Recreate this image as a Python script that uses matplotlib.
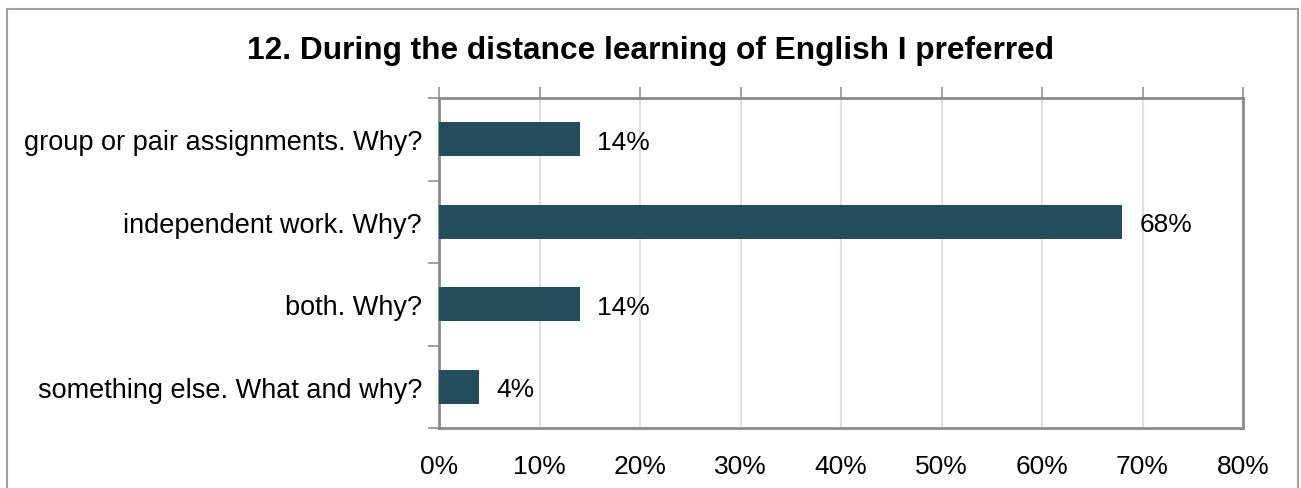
import matplotlib.pyplot as plt
from matplotlib.patches import Rectangle
from matplotlib.ticker import PercentFormatter

plt.rcParams['font.family'] = ['Liberation Sans', 'DejaVu Sans']

categories = ["group or pair assignments. Why?", "independent work. Why?",
              "both. Why?", "something else. What and why?"]
values = [14, 68, 14, 4]
bar_color = "#244D5B"

fig = plt.figure(figsize=(13.01, 4.89), dpi=100)
ax = fig.add_axes([439 / 1301, 1 - 429 / 489, 804 / 1301, 330 / 489])

# outer frame, open at the bottom like the source
fig.patches.append(Rectangle((7 / 1301, -0.1), 1291 / 1301, 1.1 - 10 / 489,
                             transform=fig.transFigure, fill=False,
                             edgecolor="#a0a0a0", linewidth=1.5))

ypos = list(range(len(categories)))
ax.barh(ypos, values, height=0.41, color=bar_color, zorder=3)
for y, v in zip(ypos, values):
    ax.text(v + 1.7, y, f"{v}%", va="center_baseline", ha="left", fontsize=19)

ax.set_xlim(0, 80)
ax.set_ylim(len(categories) - 0.5, -0.5)
ax.set_xticks(range(0, 81, 10))
ax.xaxis.set_major_formatter(PercentFormatter(decimals=0))
ax.grid(axis="x", color="#e0e0e0", linewidth=1.5, zorder=0)

ax.set_yticks(ypos)
ax.set_yticklabels(categories, va="center_baseline")
ax.set_yticks([i - 0.5 for i in range(len(categories) + 1)], minor=True)
ax.tick_params(axis="y", which="major", length=0, labelsize=19.5, pad=12.2)
ax.tick_params(axis="y", which="minor", length=8, color="#909090", width=1.2)
ax.tick_params(axis="x", which="major", bottom=False, top=True, length=8,
               color="#909090", width=1.2, labelsize=19, pad=11)

for s in ax.spines.values():
    s.set_color("#8a8a8a")
    s.set_linewidth(2)

fig.text(0.5, 1 - 51 / 489, "12. During the distance learning of English I preferred",
         ha="center", va="center", fontsize=22.8, fontweight="bold")

fig.savefig("out.png", dpi=100)
